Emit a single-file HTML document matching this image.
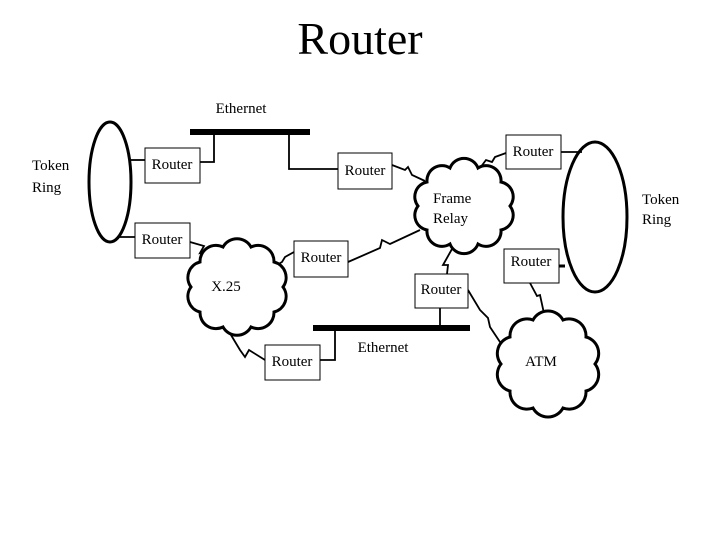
<!DOCTYPE html>
<html><head><style>
body{margin:0;background:#fff;width:720px;height:540px;overflow:hidden}
svg text{font-family:"Liberation Serif",serif;fill:#000}
</style></head><body>
<svg width="720" height="540" viewBox="0 0 720 540" xmlns="http://www.w3.org/2000/svg">
<text x="360" y="54" font-size="46" text-anchor="middle">Router</text>
<g fill="none" stroke="#000">
<ellipse cx="110" cy="182" rx="21" ry="60" stroke-width="3"/>
<ellipse cx="595" cy="217" rx="32" ry="75" stroke-width="3"/>
<rect x="190" y="129" width="120" height="6" fill="#000" stroke="none"/>
<rect x="313" y="325" width="157" height="6" fill="#000" stroke="none"/>
<g stroke-width="1.8">
<polyline points="214,135 214,162 200,162"/>
<polyline points="289,135 289,169 338,169"/>
<polyline points="440,325 440,308"/>
<polyline points="335,331 335,360 320,360"/>
<line x1="131" y1="160" x2="145" y2="160"/>
<line x1="118" y1="237" x2="135" y2="237"/>
<line x1="561" y1="152" x2="582" y2="152"/>
<line x1="559" y1="266" x2="565" y2="266" stroke-width="3"/>
<polyline points="190,242 204,246 200,253 213,250 218,257"/>
<polyline points="294,252 285,257 282,262 275,266"/>
<polyline points="348,262 380,248 382,240 390,244 420,230"/>
<polyline points="392,165 405,170 408,167 412,175 425,181"/>
<polyline points="506,153 495,157 492,162 486,160 480,168"/>
<polyline points="447,274 448,265 443,265 452,249"/>
<polyline points="468,290 480,310 488,318 490,327 502,345"/>
<polyline points="530,283 537,296 540,295 545,318"/>
<polyline points="228,330 240,350 245,357 249,350 265,360"/>
</g>
<g stroke-width="3" fill="#fff">
<path d="M283,287 A16,16 0 0 1 274,312 A16,16 0 0 1 251,327 A16,16 0 0 1 223,327 A16,16 0 0 1 200,312 A16,16 0 0 1 191,287 A16,16 0 0 1 200,262 A16,16 0 0 1 223,247 A16,16 0 0 1 251,247 A16,16 0 0 1 274,262 A16,16 0 0 1 283,287Z"/>
<path d="M510,206 A15,15 0 0 1 501,230 A15,15 0 0 1 478,244 A15,15 0 0 1 450,244 A15,15 0 0 1 427,230 A15,15 0 0 1 418,206 A15,15 0 0 1 427,182 A15,15 0 0 1 450,168 A15,15 0 0 1 478,168 A15,15 0 0 1 501,182 A15,15 0 0 1 510,206Z"/>
<path d="M595,364 A17,17 0 0 1 586,391 A17,17 0 0 1 563,408 A17,17 0 0 1 533,408 A17,17 0 0 1 510,391 A17,17 0 0 1 501,364 A17,17 0 0 1 510,337 A17,17 0 0 1 533,320 A17,17 0 0 1 563,320 A17,17 0 0 1 586,337 A17,17 0 0 1 595,364Z"/>
</g>
<g stroke-width="1" fill="#fff">
<rect x="145" y="148" width="55" height="35"/>
<rect x="135" y="223" width="55" height="35"/>
<rect x="294" y="241" width="54" height="36"/>
<rect x="265" y="345" width="55" height="35"/>
<rect x="338" y="153" width="54" height="36"/>
<rect x="506" y="135" width="55" height="34"/>
<rect x="504" y="249" width="55" height="34"/>
<rect x="415" y="274" width="53" height="34"/>
</g>
</g>
<g font-size="15">
<text x="172" y="169" text-anchor="middle">Router</text>
<text x="162" y="244" text-anchor="middle">Router</text>
<text x="321" y="262" text-anchor="middle">Router</text>
<text x="292" y="366" text-anchor="middle">Router</text>
<text x="365" y="175" text-anchor="middle">Router</text>
<text x="533" y="156" text-anchor="middle">Router</text>
<text x="531" y="266" text-anchor="middle">Router</text>
<text x="441" y="294" text-anchor="middle">Router</text>
<text x="241" y="113" text-anchor="middle">Ethernet</text>
<text x="383" y="352" text-anchor="middle">Ethernet</text>
<text x="32" y="170">Token</text>
<text x="32" y="192">Ring</text>
<text x="642" y="204">Token</text>
<text x="642" y="224">Ring</text>
<text x="433" y="203">Frame</text>
<text x="433" y="223">Relay</text>
<text x="226" y="291" text-anchor="middle">X.25</text>
<text x="541" y="366" text-anchor="middle">ATM</text>
</g>
</svg>
</body></html>
